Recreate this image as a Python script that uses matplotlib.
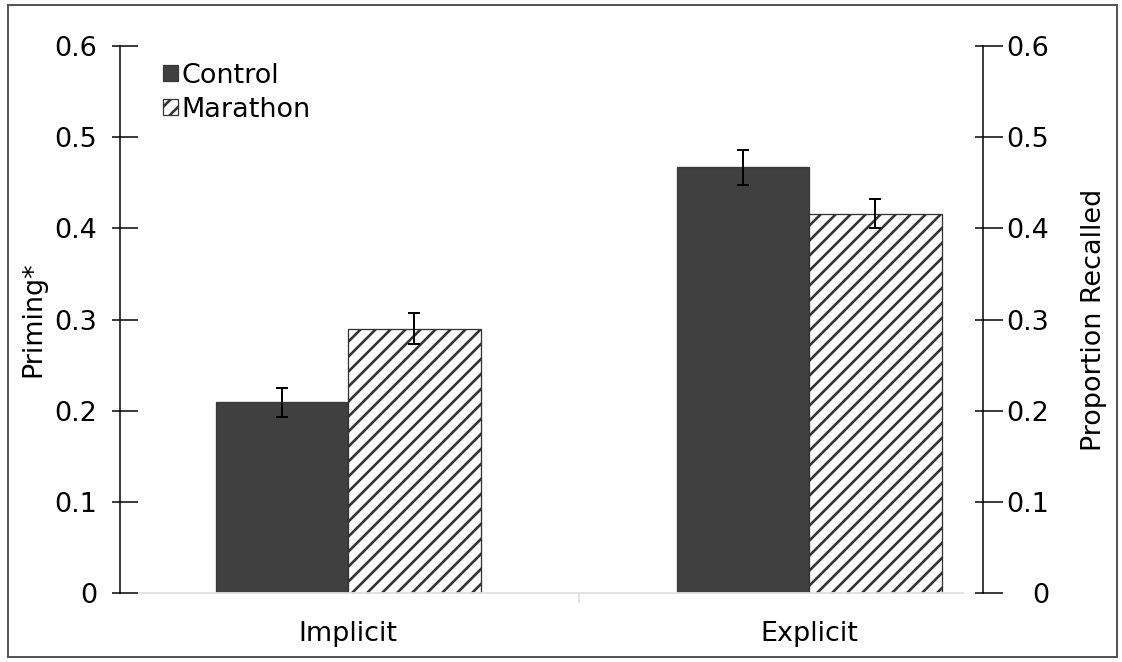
import matplotlib
matplotlib.use("Agg")
import matplotlib.pyplot as plt
from matplotlib.patches import Rectangle, Patch
import numpy as np

# Data
categories = ["Implicit", "Explicit"]
groups = ["Control", "Marathon"]
control_vals = [0.209, 0.467]
control_err = [0.016, 0.019]
marathon_vals = [0.290, 0.416]
marathon_err = [0.017, 0.016]
y_ticks = [0, 0.1, 0.2, 0.3, 0.4, 0.5, 0.6]
y_tick_labels = ["0", "0.1", "0.2", "0.3", "0.4", "0.5", "0.6"]

# work at 90 dpi so that the '//' hatch gets the reference's stripe spacing
DPI = 90
W, H = 1122, 662


def pt(px):
    # pixel size -> points at this dpi
    return px * 72.0 / DPI


plt.rcParams['font.family'] = ['DejaVu Sans']
plt.rcParams['hatch.linewidth'] = pt(2.6)
plt.rcParams['hatch.color'] = '#333333'

FS = pt(27)
bar_w = 0.2874

fig = plt.figure(figsize=(W / DPI, H / DPI), dpi=DPI)
ax = fig.add_axes([120 / W, 69 / H, 863 / W, 547 / H])

x = np.arange(len(categories))
ax.bar(x - bar_w / 2, control_vals, bar_w, color='#404040', edgecolor='#383838',
       linewidth=pt(1.3), label=groups[0], zorder=2)
ax.bar(x + bar_w / 2, marathon_vals, bar_w, color='white', edgecolor='#333333',
       hatch='//', linewidth=pt(1.3), label=groups[1], zorder=2)
ax.errorbar(x - bar_w / 2, control_vals, yerr=control_err, fmt='none', ecolor='black',
            elinewidth=pt(2), capsize=pt(6), capthick=pt(2), zorder=3)
ax.errorbar(x + bar_w / 2, marathon_vals, yerr=marathon_err, fmt='none', ecolor='black',
            elinewidth=pt(2), capsize=pt(6), capthick=pt(2), zorder=3)

ax.set_xlim(-0.4946, 1.3774)
ax.set_ylim(0, 0.6)

# spines
ax.spines['top'].set_visible(False)
ax.spines['right'].set_visible(False)
ax.spines['left'].set_linewidth(pt(1.5))
ax.spines['bottom'].set_color('#e0e0e0')
ax.spines['bottom'].set_linewidth(pt(1.8))
ax.spines['bottom'].set_bounds(-0.453, 1.334)

# x ticks
ax.set_xticks(x)
ax.set_xticklabels(categories, fontsize=FS)
ax.tick_params(axis='x', which='major', length=0, pad=pt(28))
ax.set_xticks([0.5], minor=True)
ax.tick_params(axis='x', which='minor', length=pt(10), width=pt(1.8), color='#e0e0e0',
               direction='out')

# left y ticks (cross style: short outside, long inside)
ax.set_yticks(y_ticks)
ax.set_yticklabels(y_tick_labels, fontsize=FS)
ax.set_yticks(y_ticks, minor=True)
ax.yaxis.remove_overlapping_locs = False
ax.tick_params(axis='y', which='major', direction='in', length=pt(18), width=pt(1.5),
               pad=pt(23))
ax.tick_params(axis='y', which='minor', direction='out', length=pt(8), width=pt(1.5))
ax.set_ylabel("Priming*", fontsize=FS, labelpad=pt(8))

# right axis
ax2 = ax.twinx()
ax2.set_ylim(0, 0.6)
ax2.spines['top'].set_visible(False)
ax2.spines['left'].set_visible(False)
ax2.spines['bottom'].set_visible(False)
ax2.spines['right'].set_linewidth(pt(1.5))
ax2.set_yticks(y_ticks)
ax2.set_yticklabels(y_tick_labels, fontsize=FS)
ax2.set_yticks(y_ticks, minor=True)
ax2.yaxis.remove_overlapping_locs = False
ax2.tick_params(axis='y', which='major', direction='in', length=pt(8), width=pt(1.5),
                pad=pt(66))
ax2.tick_params(axis='y', which='minor', direction='out', length=pt(20), width=pt(1.5))
for lbl in ax2.get_yticklabels():
    lbl.set_horizontalalignment('right')
ax2.set_ylabel("Proportion Recalled", fontsize=FS, labelpad=pt(32))

# legend
handles = [Patch(facecolor='#404040', edgecolor='#383838', label=groups[0]),
           Patch(facecolor='white', edgecolor='#333333', hatch='//', label=groups[1])]
ax.legend(handles=handles, loc='upper left', bbox_to_anchor=(0.037, 0.989),
          frameon=False, fontsize=FS, handlelength=0.55, handleheight=0.55,
          handletextpad=0.15, labelspacing=0.3, borderaxespad=0)

# figure border
fig.patches.append(Rectangle((8 / W, 5 / H), 1109 / W, 652 / H,
                             transform=fig.transFigure, fill=False,
                             edgecolor='#555555', linewidth=pt(2)))

fig.savefig("out.png", dpi=DPI)
